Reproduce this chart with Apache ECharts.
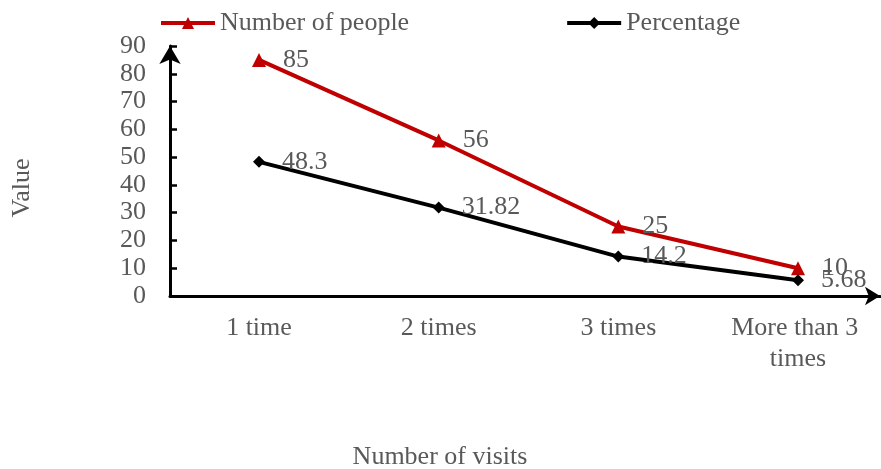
<!DOCTYPE html>
<html><head><meta charset="utf-8">
<script src="https://cdn.jsdelivr.net/npm/echarts@6/dist/echarts.min.js"></script>
<style>html,body{margin:0;padding:0;background:#fff}#c{width:881px;height:469px}</style>
</head><body><div id="c"></div>
<script>
const categories = ['1 time', '2 times', '3 times', 'More than 3 times'];
const peopleValues = [85, 56, 25, 10];
const percentValues = [48.3, 31.82, 14.2, 5.68];
const yTicks = [0, 10, 20, 30, 40, 50, 60, 70, 80, 90];
const xName = 'Number of visits';
const yName = 'Value';

const font = 'Liberation Serif';
const grey = '#595959';
const fs = 26;
const yMin = yTicks[0], yMax = yTicks[yTicks.length - 1];
const chart = echarts.init(document.getElementById('c'));
chart.setOption({
  animation: false,
  textStyle: { fontFamily: font },
  legend: {
    top: 5, left: 154, itemWidth: 54, itemHeight: 15, itemGap: 156,
    textStyle: { fontFamily: font, fontSize: fs, color: grey },
    lineStyle: { width: 4 },
    data: ['Number of people', 'Percentage']
  },
  grid: [
    { left: 259, width: 541, top: 46, height: 250 },
    { left: 170, width: 710, top: 46, height: 250 }
  ],
  xAxis: [
    {
      type: 'category', data: categories, gridIndex: 0, boundaryGap: false,
      axisLine: { show: false }, axisTick: { show: false },
      axisLabel: { fontFamily: font, fontSize: fs, color: grey, margin: 17, width: 160, overflow: 'break', lineHeight: 31, interval: 0 }
    },
    {
      type: 'category', data: categories, gridIndex: 1,
      axisLine: { show: true, symbol: ['none', 'arrow'], symbolSize: [14, 15], lineStyle: { color: '#000', width: 3 } },
      axisTick: { show: false }, axisLabel: { show: false }
    }
  ],
  yAxis: [
    { type: 'value', gridIndex: 0, show: false, min: yMin, max: yMax, interval: 10, splitLine: { show: false } },
    {
      type: 'value', min: yMin, max: yMax, interval: 10, gridIndex: 1,
      axisLine: { show: true, symbol: ['none', 'arrow'], symbolSize: [16, 18], lineStyle: { color: '#000', width: 3 } },
      axisTick: { show: true, inside: true, length: 7, lineStyle: { color: '#000', width: 2.5 } },
      splitLine: { show: false },
      axisLabel: { fontFamily: font, fontSize: fs, color: grey, margin: 24 }
    }
  ],
  graphic: [
    { type: 'text', x: 440, y: 457, style: { text: xName, font: fs + 'px "Liberation Serif"', fill: grey, textAlign: 'center', textVerticalAlign: 'middle' } },
    { type: 'text', x: 22, y: 188, rotation: Math.PI / 2, style: { text: yName, font: fs + 'px "Liberation Serif"', fill: grey, textAlign: 'center', textVerticalAlign: 'middle' } }
  ],
  series: [
    {
      name: 'Number of people', type: 'line', data: peopleValues, xAxisIndex: 0, yAxisIndex: 0,
      symbol: 'triangle', symbolSize: 14, color: '#C00000',
      lineStyle: { width: 4, color: '#C00000' }, itemStyle: { color: '#C00000' },
      label: { show: true, position: 'right', distance: 17, fontFamily: font, fontSize: fs, color: grey }
    },
    {
      name: 'Percentage', type: 'line', data: percentValues, xAxisIndex: 0, yAxisIndex: 0,
      symbol: 'diamond', symbolSize: 12, color: '#000',
      lineStyle: { width: 4, color: '#000' }, itemStyle: { color: '#000' },
      label: { show: true, position: 'right', distance: 17, fontFamily: font, fontSize: fs, color: grey }
    }
  ]
});
</script></body></html>
